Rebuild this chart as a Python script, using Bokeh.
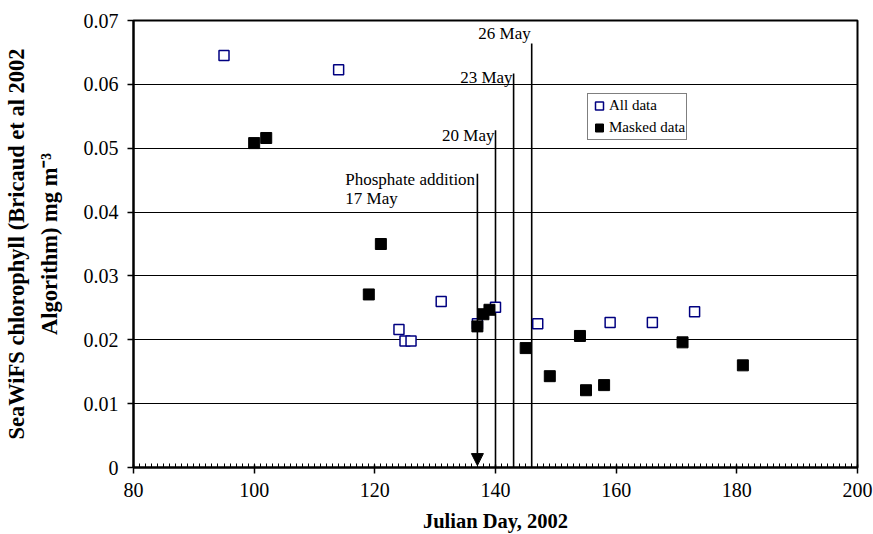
import math
from bokeh.plotting import figure
from bokeh.models import (Range1d, FixedTicker, SingleIntervalTicker, CustomJSTickFormatter,
                          Label, Arrow, NormalHead, Legend, LegendItem)
from bokeh.embed import file_html
from bokeh.resources import INLINE

# ---- data ----
all_day = [95, 114, 124, 125, 126, 131, 137, 140, 147, 159, 166, 173]
all_chl = [0.0645, 0.0623, 0.0216, 0.0198, 0.0198, 0.0260, 0.0225, 0.0251,
           0.0225, 0.0227, 0.0227, 0.0244]

mask_day = [100, 102, 119, 121, 137, 138, 139, 145, 149, 154, 155, 158, 171, 181]
mask_chl = [0.0508, 0.0516, 0.0271, 0.0350, 0.0221, 0.0240, 0.0247, 0.0187,
            0.0143, 0.0206, 0.0121, 0.0129, 0.0196, 0.0160]

event_day = [140, 143, 146]
event_top = [0.0528, 0.0617, 0.0664]
event_label = ["20 May", "23 May", "26 May"]
event_label_y = [0.0520, 0.0611, 0.0679]

phosphate_day = 137
phosphate_top = 0.046
phosphate_text = ["Phosphate addition", "17 May"]
phosphate_text_day = 115.1
phosphate_text_y = [0.0451, 0.0421]

y_ticks = [0.0, 0.01, 0.02, 0.03, 0.04, 0.05, 0.06, 0.07]

FONT = "'Liberation Serif', serif"

p = figure(width=873, height=534, output_backend="svg", toolbar_location=None,
           x_range=Range1d(80, 200), y_range=Range1d(0, 0.07),
           min_border_left=133, min_border_right=16, min_border_top=20, min_border_bottom=67,
           background_fill_color="white", border_fill_color="white")
p.outline_line_color = "black"
p.outline_line_width = 2

# x axis
xa = p.xaxis[0]
xa.ticker = SingleIntervalTicker(interval=20, num_minor_ticks=20)
xa.axis_line_color = "black"
xa.axis_line_width = 2
xa.major_tick_line_color = "black"
xa.major_tick_line_width = 1.5
xa.major_tick_in = 3
xa.major_tick_out = 6
xa.minor_tick_line_color = "black"
xa.minor_tick_line_width = 1
xa.minor_tick_in = 4
xa.minor_tick_out = 0
xa.major_label_text_font = FONT
xa.major_label_text_font_size = "20px"
xa.major_label_text_color = "black"
xa.major_label_standoff = 9
xa.axis_label = "Julian Day, 2002"
xa.axis_label_text_font = FONT
xa.axis_label_text_font_size = "20.5px"
xa.axis_label_text_font_style = "bold"
xa.axis_label_text_color = "black"
xa.axis_label_standoff = 10

# y axis
ya = p.yaxis[0]
ya.ticker = FixedTicker(ticks=y_ticks, minor_ticks=[])
ya.formatter = CustomJSTickFormatter(code="return tick < 1e-9 ? '0' : tick.toFixed(2);")
ya.axis_line_color = "black"
ya.axis_line_width = 2
ya.major_tick_line_color = "black"
ya.major_tick_line_width = 1.5
ya.major_tick_in = 0
ya.major_tick_out = 6
ya.minor_tick_line_color = None
ya.major_label_text_font = FONT
ya.major_label_text_font_size = "20px"
ya.major_label_text_color = "black"
ya.major_label_standoff = 9
ya.axis_label = "SeaWiFS chlorophyll (Bricaud et al 2002\nAlgorithm) mg m\u207b\u00b3"
ya.axis_label_text_font = FONT
ya.axis_label_text_font_size = "22.5px"
ya.axis_label_text_font_style = "bold"
ya.axis_label_text_color = "black"
ya.axis_label_text_line_height = 1.29
ya.axis_label_standoff = 19

p.xgrid.visible = False
p.ygrid.ticker = FixedTicker(ticks=y_ticks)
p.ygrid.grid_line_color = "black"
p.ygrid.grid_line_width = 1

# event lines
p.segment(x0=event_day, y0=[0] * len(event_day), x1=event_day, y1=event_top,
          line_color="black", line_width=1.6)

# phosphate arrow
p.add_layout(Arrow(end=NormalHead(size=12, fill_color="black", line_color="black"),
                   x_start=phosphate_day, y_start=phosphate_top,
                   x_end=phosphate_day, y_end=0.0003,
                   line_color="black", line_width=1.6))

# data
r_all = p.scatter(all_day, all_chl, marker="square", size=10, fill_color="white",
                  line_color="#000080", line_width=1.5)
r_mask = p.scatter(mask_day, mask_chl, marker="square", size=11, fill_color="black",
                   line_color="black", line_width=1)

# annotations
for d, t, yv in zip(event_day, event_label, event_label_y):
    p.add_layout(Label(x=d, y=yv, text=t, text_align="right", text_baseline="middle",
                       x_offset=-1, text_font=FONT, text_font_size="17px", text_color="black"))
for t, yv in zip(phosphate_text, phosphate_text_y):
    p.add_layout(Label(x=phosphate_text_day, y=yv, text=t, text_align="left",
                       text_baseline="middle", text_font=FONT, text_font_size="17px",
                       text_color="black"))

legend = Legend(items=[LegendItem(label="All data", renderers=[r_all]),
                       LegendItem(label="Masked data", renderers=[r_mask])],
                location=(454, 327), orientation="vertical",
                glyph_width=20, glyph_height=21, label_height=20, label_standoff=0,
                label_width=74, spacing=1, padding=1, margin=0,
                label_text_font=FONT, label_text_font_size="15px", label_text_color="black",
                border_line_color="black", border_line_width=1.5,
                background_fill_color="white", background_fill_alpha=1)
p.add_layout(legend, "center")

open("out.html", "w").write(file_html(p, INLINE))
